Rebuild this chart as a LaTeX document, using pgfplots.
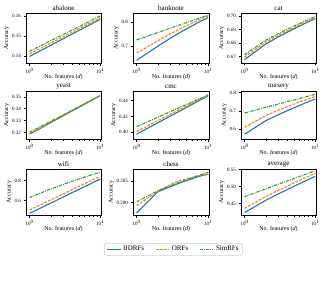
\documentclass[border=0pt]{standalone}
\usepackage{fontspec}
\setmainfont{Liberation Serif}
\usepackage{pgfplots}
\pgfplotsset{compat=1.18}
\definecolor{cB}{HTML}{1F77B4}
\definecolor{cO}{HTML}{FF7F0E}
\definecolor{cG}{HTML}{2CA02C}
\pgfplotsset{
 mypanel/.style={
  scale only axis, anchor=north west,
  xmin=0.89, xmax=10.3,
  xtick={1,10}, xticklabels={10\textsuperscript{0},10\textsuperscript{1}},
  minor xtick={2,3,4,5,6,7,8,9},
  tick align=outside, tick pos=left,
  major tick length=2.5pt, minor tick length=1.5pt,
  tick style={black, line width=0.5pt},
  axis line style={line width=0.8pt},
  ticklabel style={font=\fontsize{5}{6}\selectfont},
  label style={font=\fontsize{6}{7}\selectfont},
  title style={font=\fontsize{7}{8}\selectfont, yshift=-7.5pt},
  xlabel={No. features (\textit{d})}, ylabel={Accuracy},
  /pgf/number format/assume math mode=true,
  xlabel style={yshift=6pt}, ylabel style={yshift=-4pt},
  xticklabel style={yshift=1pt}, yticklabel style={xshift=1pt},
  no markers,
 },
 sB/.style={color=cB,solid,line width=1.1pt},
 sO/.style={color=cO,line width=1.1pt,dash pattern=on 2.8pt off 1.3pt},
 sG/.style={color=cG,line width=1.1pt,dash pattern=on 3.2pt off 1.1pt on 0.9pt off 1.1pt},
 cA/.style={width=75pt}, cC/.style={width=76pt}, cD/.style={width=75pt},
 rA/.style={height=50pt}, rB/.style={height=48pt}, rC/.style={height=46pt},
}
\begin{document}
\begin{tikzpicture}
\useasboundingbox (0,0) rectangle (325pt,-300pt);
% ---------- row 1 ----------
\begin{semilogxaxis}[mypanel,cA,rA,at={(26pt,-13pt)},title={abalone},ymin=0.1364,ymax=0.1615,
 ytick={0.14,0.15,0.16},yticklabels={0.14,0.15,0.16}]
\addplot[sB] coordinates {(1,0.1397)(2,0.1453)(3,0.1486)(4,0.1509)(5,0.1527)(6,0.1542)(7,0.1554)(8,0.1565)(9,0.1574)(10,0.1583)};
\addplot[sO] coordinates {(1,0.1410)(2,0.1464)(3,0.1496)(4,0.1518)(5,0.1536)(6,0.1550)(7,0.1562)(8,0.1572)(9,0.1581)(10,0.1590)};
\addplot[sG] coordinates {(1,0.1422)(2,0.1476)(3,0.1507)(4,0.1529)(5,0.1546)(6,0.1560)(7,0.1572)(8,0.1583)(9,0.1592)(10,0.1600)};
\end{semilogxaxis}
\begin{semilogxaxis}[mypanel,cC,rA,at={(133pt,-13pt)},title={banknote},ymin=0.629,ymax=0.837,
 ytick={0.7,0.8},yticklabels={0.7,0.8}]
\addplot[sB] coordinates {(1,0.640)(2,0.700)(3,0.733)(4,0.755)(5,0.771)(6,0.784)(7,0.795)(8,0.804)(9,0.811)(10,0.818)};
\addplot[sO] coordinates {(1,0.670)(2,0.722)(3,0.751)(4,0.770)(5,0.784)(6,0.795)(7,0.805)(8,0.813)(9,0.819)(10,0.825)};
\addplot[sG] coordinates {(1,0.725)(2,0.756)(3,0.774)(4,0.787)(5,0.797)(6,0.805)(7,0.812)(8,0.818)(9,0.823)(10,0.828)};
\end{semilogxaxis}
\begin{semilogxaxis}[mypanel,cD,rA,at={(241pt,-13pt)},title={cat},ymin=0.6651,ymax=0.7022,
 ytick={0.67,0.68,0.69,0.70},yticklabels={0.67,0.68,0.69,0.70}]
\addplot[sB] coordinates {(1,0.6676)(2,0.6792)(3,0.6844)(4,0.6879)(5,0.6904)(6,0.6925)(7,0.6942)(8,0.6956)(9,0.6969)(10,0.6980)};
\addplot[sO] coordinates {(1,0.6695)(2,0.6806)(3,0.6855)(4,0.6888)(5,0.6913)(6,0.6933)(7,0.6948)(8,0.6962)(9,0.6974)(10,0.6985)};
\addplot[sG] coordinates {(1,0.6712)(2,0.6820)(3,0.6868)(4,0.6901)(5,0.6925)(6,0.6944)(7,0.6959)(8,0.6973)(9,0.6985)(10,0.6995)};
\end{semilogxaxis}
% ---------- row 2 ----------
\begin{semilogxaxis}[mypanel,cA,rB,at={(26pt,-91pt)},title={yeast},ymin=0.3146,ymax=0.3549,
 ytick={0.32,0.33,0.34,0.35},yticklabels={0.32,0.33,0.34,0.35}]
\addplot[sB] coordinates {(1,0.3186)(2,0.3284)(3,0.3341)(4,0.3381)(5,0.3412)(6,0.3438)(7,0.3460)(8,0.3479)(9,0.3495)(10,0.3510)};
\addplot[sO] coordinates {(1,0.3192)(2,0.3288)(3,0.3344)(4,0.3383)(5,0.3414)(6,0.3439)(7,0.3461)(8,0.3479)(9,0.3495)(10,0.3510)};
\addplot[sG] coordinates {(1,0.3203)(2,0.3295)(3,0.3349)(4,0.3388)(5,0.3418)(6,0.3442)(7,0.3462)(8,0.3480)(9,0.3496)(10,0.3510)};
\end{semilogxaxis}
\begin{semilogxaxis}[mypanel,cC,rB,at={(133pt,-91pt)},title={cmc},ymin=0.3913,ymax=0.4524,
 ytick={0.40,0.42,0.44},yticklabels={0.40,0.42,0.44}]
\addplot[sB] coordinates {(1,0.3975)(2,0.4122)(3,0.4207)(4,0.4268)(5,0.4315)(6,0.4354)(7,0.4387)(8,0.4415)(9,0.4440)(10,0.4462)};
\addplot[sO] coordinates {(1,0.4008)(2,0.4148)(3,0.4230)(4,0.4289)(5,0.4334)(6,0.4371)(7,0.4402)(8,0.4429)(9,0.4453)(10,0.4474)};
\addplot[sG] coordinates {(1,0.4070)(2,0.4192)(3,0.4263)(4,0.4313)(5,0.4352)(6,0.4384)(7,0.4411)(8,0.4435)(9,0.4455)(10,0.4474)};
\end{semilogxaxis}
\begin{semilogxaxis}[mypanel,cD,rB,at={(241pt,-91pt)},title={nursery},ymin=0.547,ymax=0.809,
 ytick={0.6,0.7,0.8},yticklabels={0.6,0.7,0.8}]
\addplot[sB] coordinates {(1,0.573)(2,0.647)(3,0.679)(4,0.701)(5,0.717)(6,0.730)(7,0.741)(8,0.750)(9,0.758)(10,0.765)};
\addplot[sO] coordinates {(1,0.611)(2,0.675)(3,0.704)(4,0.723)(5,0.737)(6,0.749)(7,0.758)(8,0.766)(9,0.773)(10,0.779)};
\addplot[sG] coordinates {(1,0.689)(2,0.720)(3,0.738)(4,0.751)(5,0.760)(6,0.768)(7,0.775)(8,0.781)(9,0.786)(10,0.791)};
\end{semilogxaxis}
% ---------- row 3 ----------
\begin{semilogxaxis}[mypanel,cA,rC,at={(26pt,-169pt)},title={wifi},ymin=0.457,ymax=0.913,
 ytick={0.6,0.8},yticklabels={0.6,0.8}]
\addplot[sB] coordinates {(1,0.473)(2,0.575)(3,0.635)(4,0.678)(5,0.711)(6,0.738)(7,0.760)(8,0.780)(9,0.797)(10,0.813)};
\addplot[sO] coordinates {(1,0.507)(2,0.607)(3,0.666)(4,0.707)(5,0.740)(6,0.766)(7,0.788)(8,0.808)(9,0.825)(10,0.840)};
\addplot[sG] coordinates {(1,0.630)(2,0.716)(3,0.760)(4,0.790)(5,0.813)(6,0.832)(7,0.848)(8,0.861)(9,0.872)(10,0.883)};
\end{semilogxaxis}
\begin{semilogxaxis}[mypanel,cC,rC,at={(133pt,-169pt)},title={chess},ymin=0.1971,ymax=0.2079,
 ytick={0.200,0.205},yticklabels={0.200,0.205},
 legend columns=3,
 legend style={at={(0.5,0)},anchor=north,yshift=-28pt,xshift=2.5pt,
   font=\fontsize{7}{8}\selectfont,draw=black!18,line width=0.6pt,rounded corners=1.5pt,
   inner xsep=2pt,inner ysep=1pt,
   /tikz/every even column/.append style={column sep=9pt}},
 legend image post style={xscale=0.8}]
\addplot[sB] coordinates {(1,0.1976)(2,0.2026)(3,0.2038)(4,0.2046)(5,0.2052)(6,0.2056)(7,0.2060)(8,0.2063)(9,0.2065)(10,0.2067)};
\addplot[sO] coordinates {(1,0.1993)(2,0.2027)(3,0.2043)(4,0.2052)(5,0.2056)(6,0.2059)(7,0.2062)(8,0.2064)(9,0.2065)(10,0.2066)};
\addplot[sG] coordinates {(1,0.2002)(2,0.2028)(3,0.2040)(4,0.2048)(5,0.2054)(6,0.2059)(7,0.2063)(8,0.2066)(9,0.2069)(10,0.2071)};
\legend{IIDRFs,ORFs,SimRFs}
\end{semilogxaxis}
\begin{semilogxaxis}[mypanel,cD,rC,at={(241pt,-169pt)},title={average},ymin=0.4163,ymax=0.552,
 ytick={0.45,0.50,0.55},yticklabels={0.45,0.50,0.55}]
\addplot[sB] coordinates {(1,0.4233)(2,0.4597)(3,0.4783)(4,0.4910)(5,0.5008)(6,0.5087)(7,0.5153)(8,0.5209)(9,0.5258)(10,0.5303)};
\addplot[sO] coordinates {(1,0.436)(2,0.471)(3,0.489)(4,0.501)(5,0.511)(6,0.518)(7,0.525)(8,0.530)(9,0.535)(10,0.539)};
\addplot[sG] coordinates {(1,0.4703)(2,0.4934)(3,0.5069)(4,0.5165)(5,0.5239)(6,0.5300)(7,0.5351)(8,0.5396)(9,0.5435)(10,0.5470)};
\end{semilogxaxis}
\end{tikzpicture}
\end{document}
